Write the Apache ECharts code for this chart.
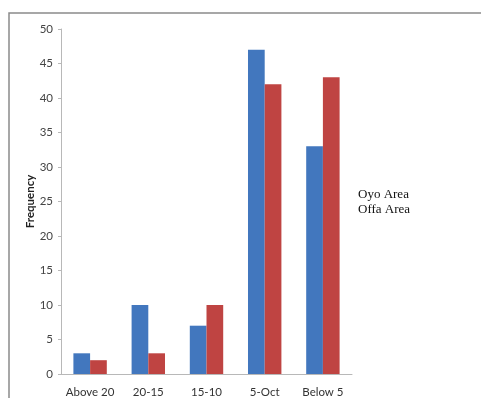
<!DOCTYPE html>
<html>
<head>
<meta charset="utf-8">
<script src="https://cdn.jsdelivr.net/npm/echarts@6/dist/echarts.min.js"></script>
<style>
html, body { margin: 0; padding: 0; background: #fff; }
#chart { width: 481px; height: 398px; }
</style>
</head>
<body>
<div id="chart"></div>
<script>
// Age-band categories and frequencies for each area
const categories = ['Above 20', '20-15', '15-10', '5-Oct', 'Below 5'];
const oyoArea = [3, 10, 7, 47, 33];
const offaArea = [2, 3, 10, 42, 43];
const yTicks = { min: 0, max: 50, interval: 5 };

const labelFont = 'Lato, "Open Sans", sans-serif';
const chart = echarts.init(document.getElementById('chart'), null, { renderer: 'canvas' });

chart.setOption({
  animation: false,
  backgroundColor: '#fff',
  graphic: [{
    type: 'rect',
    shape: { x: 9, y: 13, width: 520, height: 420 },
    style: { fill: 'none', stroke: '#8a8a8a', lineWidth: 1.5 },
    silent: true
  }],
  legend: {
    orient: 'vertical',
    left: 348,
    top: 183,
    itemWidth: 0,
    itemHeight: 0,
    itemGap: 2,
    icon: 'rect',
    textStyle: { fontFamily: 'Liberation Serif', fontSize: 13, color: '#111' },
    data: ['Oyo Area', 'Offa Area']
  },
  grid: { left: 61, right: 129, top: 29, bottom: 23, containLabel: false },
  xAxis: {
    type: 'category',
    data: categories,
    axisLine: { lineStyle: { color: '#b8b8b8', width: 1 } },
    axisTick: { show: false },
    axisLabel: { interval: 0, color: '#333', fontSize: 11.5, fontFamily: labelFont, margin: 12 }
  },
  yAxis: {
    type: 'value',
    min: yTicks.min,
    max: yTicks.max,
    interval: yTicks.interval,
    name: 'Frequency',
    nameLocation: 'middle',
    nameGap: 25,
    nameMoveOverlap: false,
    nameRotate: 90,
    nameTextStyle: { fontWeight: 'bold', fontSize: 11.5, color: '#222', fontFamily: labelFont },
    axisLine: { show: true, lineStyle: { color: '#b8b8b8', width: 1 } },
    axisTick: { show: true, length: 3, lineStyle: { color: '#b8b8b8' } },
    splitLine: { show: false },
    axisLabel: { color: '#444', fontSize: 11.5, fontFamily: labelFont, margin: 8 }
  },
  series: [
    {
      name: 'Oyo Area',
      type: 'bar',
      data: oyoArea,
      barGap: '0%',
      barCategoryGap: '42.6%',
      itemStyle: { color: '#4277be' }
    },
    {
      name: 'Offa Area',
      type: 'bar',
      data: offaArea,
      itemStyle: { color: '#bf4442' }
    }
  ]
});
</script>
</body>
</html>
